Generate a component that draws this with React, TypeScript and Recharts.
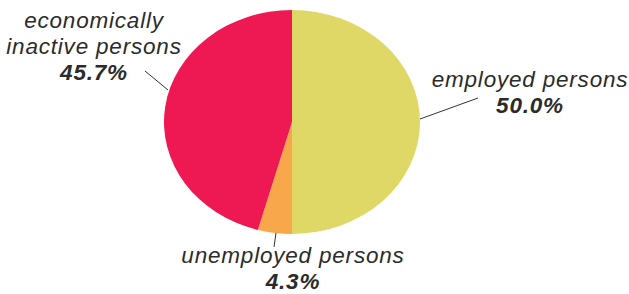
import { PieChart, Pie, Cell, Sector } from 'recharts';

const NAMES = ['employed persons', 'unemployed persons', 'economically inactive persons'];
const VALUES = [50.0, 4.3, 45.7];
const COLORS = ['#dfd766', '#f9a74b', '#ee1852'];

// label text lines + placement relative to pie centre
const LABEL_LINES = [['employed persons'], ['unemployed persons'], ['economically', 'inactive persons']];
const LABEL_LAYOUT = [
  { line: [128, -3, 186, -24], x: 238, y: -35 },
  { line: [-16, 111, -18, 125], x: 1, y: 141 },
  { line: [-124, -32, -147, -51], x: -198, y: -94 },
];

const CX = 292;
const CY = 122;
const R = 112;
const SX = 128 / 112;
const LH = 26;

const data = NAMES.map((name, i) => ({ name, value: VALUES[i] }));

const textStyle = {
  fontFamily: '"Liberation Sans", Arial, sans-serif',
  fontSize: 22.5,
  fontStyle: 'italic',
  letterSpacing: 0.8,
  fill: '#2b2b2b',
};

const EllipseSector = (props: any) => (
  <g transform={`translate(${props.cx},${props.cy}) scale(${SX},1) translate(${-props.cx},${-props.cy})`}>
    <Sector {...props} stroke="none" />
  </g>
);

const renderLabel = (props: any) => {
  const { cx, cy, index, value } = props;
  const lay = LABEL_LAYOUT[index];
  const lines = LABEL_LINES[index];
  const [x1, y1, x2, y2] = lay.line;
  return (
    <g>
      <line x1={cx + x1} y1={cy + y1} x2={cx + x2} y2={cy + y2} stroke="#333" strokeWidth={1} />
      {lines.map((t, k) => (
        <text key={k} x={cx + lay.x} y={cy + lay.y + k * LH} textAnchor="middle" style={textStyle}>
          {t}
        </text>
      ))}
      <text
        x={cx + lay.x}
        y={cy + lay.y + lines.length * LH}
        textAnchor="middle"
        style={{ ...textStyle, fontWeight: 700 }}
      >
        {value.toFixed(1)}%
      </text>
    </g>
  );
};

export default function App() {
  return (
    <div>
      <style>{`body{margin:0}`}</style>
      <PieChart width={629} height={294} margin={{ top: 0, right: 0, bottom: 0, left: 0 }}>
        <Pie
          data={data}
          dataKey="value"
          cx={CX}
          cy={CY}
          outerRadius={R}
          startAngle={90}
          endAngle={-270}
          stroke="none"
          shape={EllipseSector}
          label={renderLabel}
          labelLine={false}
          isAnimationActive={false}
        >
          {data.map((_, i) => (
            <Cell key={i} fill={COLORS[i]} />
          ))}
        </Pie>
      </PieChart>
    </div>
  );
}
